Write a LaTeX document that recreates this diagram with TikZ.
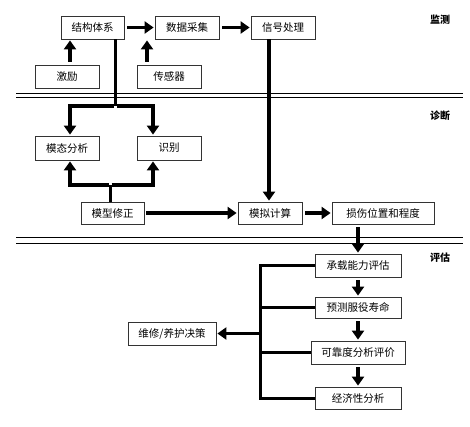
\documentclass[tikz,border=0pt]{standalone}
\usepackage{fontspec}
\setmainfont{Noto Sans CJK SC}
\usetikzlibrary{arrows.meta}

\begin{document}
\begin{tikzpicture}
    [x=1pt, y=-1pt,
    StepBox/.style={rectangle, draw=black!80, thick, fill=white, minimum width=63pt, minimum height=23pt, inner sep=1pt, font=\fontsize{10.5}{12}\selectfont},
    Flow/.style={-{Triangle[length=9pt, width=12pt]}, line width=3.8pt, shorten >=1pt, shorten <=3pt},
    Bus/.style={line width=3pt},
    Stage/.style={font=\fontsize{10}{12}\selectfont\bfseries}]
    \useasboundingbox (0, 0) rectangle (470, 426);
    % monitoring
    \node[StepBox] (jg) at (92.5, 27.5){结构体系};
    \node[StepBox, minimum width=64pt] (sj) at (187, 27.5){数据采集};
    \node[StepBox, minimum width=64pt] (xh) at (283, 27.5){信号处理};
    \node[StepBox, minimum width=64pt] (jl) at (67, 76.5){激励};
    \node[StepBox, minimum width=64pt] (cg) at (169, 76.5){传感器};
    \node[Stage] (lm) at (440, 20){监测};
    % diagnosis
    \node[StepBox, minimum width=64pt, minimum height=24pt] (mt) at (67, 148){模态分析};
    \node[StepBox, minimum width=64pt, minimum height=24pt] (sb) at (169, 148){识别};
    \node[StepBox, minimum height=22pt] (mx) at (112.5, 213){模型修正};
    \node[StepBox, minimum width=64pt, minimum height=22pt] (mn) at (270, 213){模拟计算};
    \node[StepBox, minimum width=102pt, minimum height=22pt] (ss) at (383, 213){损伤位置和程度};
    \node[Stage] (ld) at (440, 116){诊断};
    % assessment
    \node[StepBox, minimum width=86pt] (cz) at (358, 265.5){承载能力评估};
    \node[StepBox, minimum width=86pt, minimum height=21pt] (yc) at (358, 307.5){预测服役寿命};
    \node[StepBox, minimum width=94pt] (kk) at (358, 352.5){可靠度分析评价};
    \node[StepBox, minimum width=86pt, minimum height=22pt] (jj) at (358, 398){经济性分析};
    \node[StepBox, minimum width=88pt] (wx) at (172, 333.5){维修/养护决策};
    \node[Stage] (lp) at (440, 258){评估};
    % separators
    \draw[thick] (16, 93) -- (463, 93);
    \draw[thick] (16, 97.5) -- (463, 97.5);
    \draw[thick] (16, 237) -- (463, 237);
    \draw[thick] (16, 243) -- (463, 243);
    % junctions
    \coordinate (j1) at (115, 106);
    \coordinate (j2) at (110, 185);
    \coordinate (j3) at (260, 333.5);
    % connectors
    \draw[Flow] (jg) -- (sj);
    \draw[Flow] (sj) -- (xh);
    \draw[Flow] (jl.north -| 70, 0) -- (jg.south -| 70, 0);
    \draw[Flow] (cg.north -| 147, 0) -- (sj.south -| 147, 0);
    \draw[Bus] (jg.south -| j1) -- (j1);
    \draw[Flow, shorten <=0pt] ([xshift=-1.5pt]j1) -| ([xshift=3pt]mt.north);
    \draw[Flow, shorten <=0pt] ([xshift=1.5pt]j1) -| ([xshift=-16pt]sb.north);
    \draw[Bus] (mx.north -| j2) -- (j2);
    \draw[Flow, shorten <=0pt] ([xshift=-1.5pt]j2) -| ([xshift=3pt]mt.south);
    \draw[Flow, shorten <=0pt] ([xshift=1.5pt]j2) -| ([xshift=-16pt]sb.south);
    \draw[Flow, shorten <=0pt] (xh.south -| 269, 0) -- (mn.north -| 269, 0);
    \draw[Flow, shorten <=2pt] (mx) -- (mn);
    \draw[Flow] (mn) -- (ss);
    \draw[Flow] (ss.south -| cz.north) -- (cz.north);
    \draw[Flow] (cz) -- (yc);
    \draw[Flow] (yc) -- (kk);
    \draw[Flow] (kk) -- (jj);
    \draw[Bus] (cz.west) -| (j3) |- (jj.west);
    \draw[Bus] (yc.west) -- (yc.west -| j3);
    \draw[Bus] (kk.west) -- (kk.west -| j3);
    \draw[Flow, shorten <=0pt] (j3) -- (wx);
\end{tikzpicture}
\end{document}
